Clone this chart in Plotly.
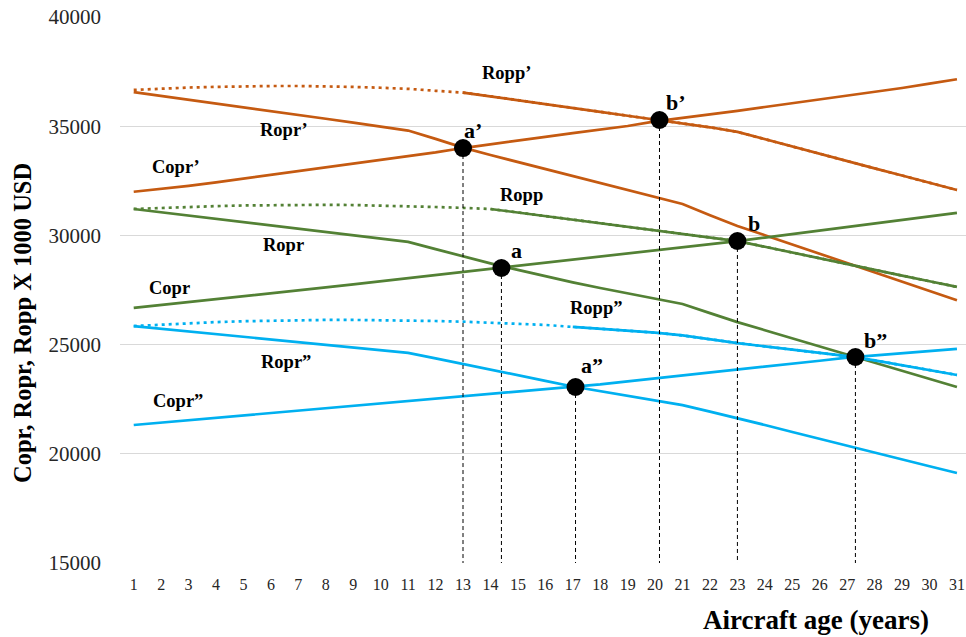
import plotly.graph_objects as go

# Aircraft age (years)
years = list(range(1, 32))

# Cost / revenue curves, thousand USD, three aircraft scenarios (', plain, '')
copr_1 = [32000, 32130, 32270, 32430, 32600, 32780, 32950, 33130, 33290, 33480, 33620,
          33800, 34000, 34180, 34350, 34510, 34680, 34850, 35010, 35220, 35370,
          35540, 35700, 35880, 36050, 36230, 36400, 36580, 36750, 36950, 37150]
ropr_1 = [36560, 36390, 36210, 36040, 35860, 35690, 35510, 35340, 35160, 34990, 34800,
          34420, 34020, 33680, 33360, 33040, 32720, 32400, 32080, 31760, 31440,
          30920, 30430, 30010, 29580, 29150, 28720, 28290, 27860, 27440, 27030]
ropp_1 = [36660, 36720, 36770, 36800, 36830, 36840, 36840, 36830, 36800, 36760, 36710,
          36620, 36540, 36370, 36200, 36020, 35840, 35660, 35480, 35310, 35140,
          34950, 34740, 34400, 34070, 33740, 33410, 33070, 32740, 32410, 32080]

copr_0 = [26680, 26810, 26950, 27080, 27220, 27350, 27490, 27620, 27760, 27900, 28030,
          28170, 28310, 28450, 28590, 28740, 28880, 29030, 29170, 29310, 29460,
          29600, 29740, 29900, 30060, 30220, 30380, 30540, 30700, 30870, 31030]
ropr_0 = [31210, 31060, 30910, 30760, 30610, 30460, 30300, 30150, 30000, 29850, 29700,
          29370, 29040, 28720, 28420, 28130, 27850, 27590, 27340, 27100, 26860,
          26440, 26030, 25660, 25290, 24920, 24550, 24180, 23800, 23430, 23060]
ropp_0 = [31210, 31260, 31300, 31340, 31370, 31390, 31400, 31400, 31390, 31370, 31340,
          31300, 31260, 31210, 31050, 30890, 30720, 30560, 30400, 30240, 30080,
          29910, 29740, 29480, 29210, 28950, 28690, 28420, 28160, 27900, 27640]

copr_2 = [21320, 21430, 21540, 21650, 21760, 21870, 21980, 22090, 22190, 22300, 22410,
          22510, 22620, 22730, 22830, 22940, 23050, 23180, 23320, 23450, 23590,
          23720, 23860, 23990, 24130, 24260, 24400, 24500, 24600, 24700, 24800]
ropr_2 = [25850, 25730, 25600, 25480, 25360, 25230, 25110, 24990, 24860, 24740, 24620,
          24370, 24120, 23860, 23600, 23340, 23080, 22860, 22650, 22440, 22230,
          21930, 21640, 21320, 21000, 20680, 20360, 20050, 19740, 19430, 19120]
ropp_2 = [25850, 25920, 25980, 26030, 26070, 26100, 26120, 26130, 26130, 26120, 26100,
          26080, 26050, 26010, 25960, 25900, 25810, 25730, 25640, 25550, 25420,
          25240, 25070, 24920, 24770, 24620, 24470, 24280, 24060, 23840, 23610]

# Year from which each Ropp curve is drawn solid
ropp_solid_from = {"1": 13, "0": 14, "2": 17}

# Characteristic points (age, value)
pt_names = ["a’", "b’", "a", "b", "a”", "b”"]
pt_x = [13.0, 20.16, 14.4, 23.0, 17.1, 27.3]
pt_y = [34000, 35284, 28507, 29744, 23059, 24432]

y_ticks = [15000, 20000, 25000, 30000, 35000, 40000]

ORANGE = "#C55A11"
GREEN = "#538135"
BLUE = "#00B0F0"
FONT = "'Liberation Serif', 'Times New Roman', Times, 'DejaVu Serif', serif"

fig = go.Figure()

groups = [
    (ORANGE, copr_1, ropr_1, ropp_1, "1"),
    (GREEN, copr_0, ropr_0, ropp_0, "0"),
    (BLUE, copr_2, ropr_2, ropp_2, "2"),
]
for color, copr, ropr, ropp, key in groups:
    fig.add_trace(go.Scatter(x=years, y=ropp, mode="lines",
                             line=dict(color=color, width=2.7, dash="3px,4px")))
    start = ropp_solid_from[key] - 1
    fig.add_trace(go.Scatter(x=years[start:], y=ropp[start:], mode="lines",
                             line=dict(color=color, width=2.7)))
    fig.add_trace(go.Scatter(x=years, y=ropr, mode="lines",
                             line=dict(color=color, width=2.7)))
    fig.add_trace(go.Scatter(x=years, y=copr, mode="lines",
                             line=dict(color=color, width=2.7)))

# Drop lines from each characteristic point to the axis
for x, y in zip(pt_x, pt_y):
    fig.add_trace(go.Scatter(x=[x, x], y=[y, y_ticks[0]], mode="lines",
                             line=dict(color="#000000", width=1, dash="4px,3px")))

fig.add_trace(go.Scatter(x=pt_x, y=pt_y, mode="markers",
                         marker=dict(color="#000000", size=18)))

L, T, PW, PH = 120, 17, 846, 546


def px(xp, yp):
    return (xp - L) / PW, (T + PH - yp) / PH


curve_labels = [
    ("Ropp’", 506, 73), ("Ropr’", 284, 130), ("Copr’", 176, 167),
    ("Ropp", 521, 195), ("Ropr", 283, 245), ("Copr", 169, 288),
    ("Ropp”", 596, 308), ("Ropr”", 286, 362), ("Copr”", 178, 401),
]
point_labels = [(473, 130), (676, 102), (516, 250), (754, 223), (592, 365), (875, 340)]

annotations = []
for text, xp, yp in curve_labels:
    ax, ay = px(xp, yp)
    annotations.append(dict(x=ax, y=ay, xref="paper", yref="paper", text="<b>" + text + "</b>",
                            showarrow=False, font=dict(family=FONT, size=18.5, color="#000000"),
                            xanchor="center", yanchor="middle"))
for name, (xp, yp) in zip(pt_names, point_labels):
    ax, ay = px(xp, yp)
    annotations.append(dict(x=ax, y=ay, xref="paper", yref="paper", text="<b>" + name + "</b>",
                            showarrow=False, font=dict(family=FONT, size=22, color="#000000"),
                            xanchor="center", yanchor="middle"))

ax, ay = px(816, 620)
annotations.append(dict(x=ax, y=ay, xref="paper", yref="paper",
                        text="<b>Aircraft age (years)</b>", showarrow=False,
                        font=dict(family=FONT, size=27, color="#000000"),
                        xanchor="center", yanchor="middle"))
ax, ay = px(22, 323)
annotations.append(dict(x=ax, y=ay, xref="paper", yref="paper",
                        text="<b>Copr, Ropr, Ropp X 1000 USD</b>", showarrow=False,
                        textangle=-90,
                        font=dict(family=FONT, size=24.5, color="#000000"),
                        xanchor="center", yanchor="middle"))

fig.update_layout(
    width=966, height=637,
    margin=dict(l=L, r=966 - L - PW, t=T, b=637 - T - PH),
    plot_bgcolor="#FFFFFF", paper_bgcolor="#FFFFFF",
    showlegend=False,
    annotations=annotations,
    font=dict(family=FONT),
    xaxis=dict(range=[0.5, 31.33], tickmode="array", tickvals=years,
               ticktext=[str(v) for v in years], showgrid=False, zeroline=False,
               showline=False, ticks="", ticklabelstandoff=10,
               tickfont=dict(family=FONT, size=16, color="#262626")),
    yaxis=dict(range=[15000, 40000], tickmode="array", tickvals=y_ticks,
               ticktext=[str(v) for v in y_ticks], showgrid=True,
               gridcolor="#D9D9D9", gridwidth=1, zeroline=False, showline=False,
               ticks="", ticklabelstandoff=18,
               tickfont=dict(family=FONT, size=21, color="#262626")),
)

fig.write_html("out.html")
